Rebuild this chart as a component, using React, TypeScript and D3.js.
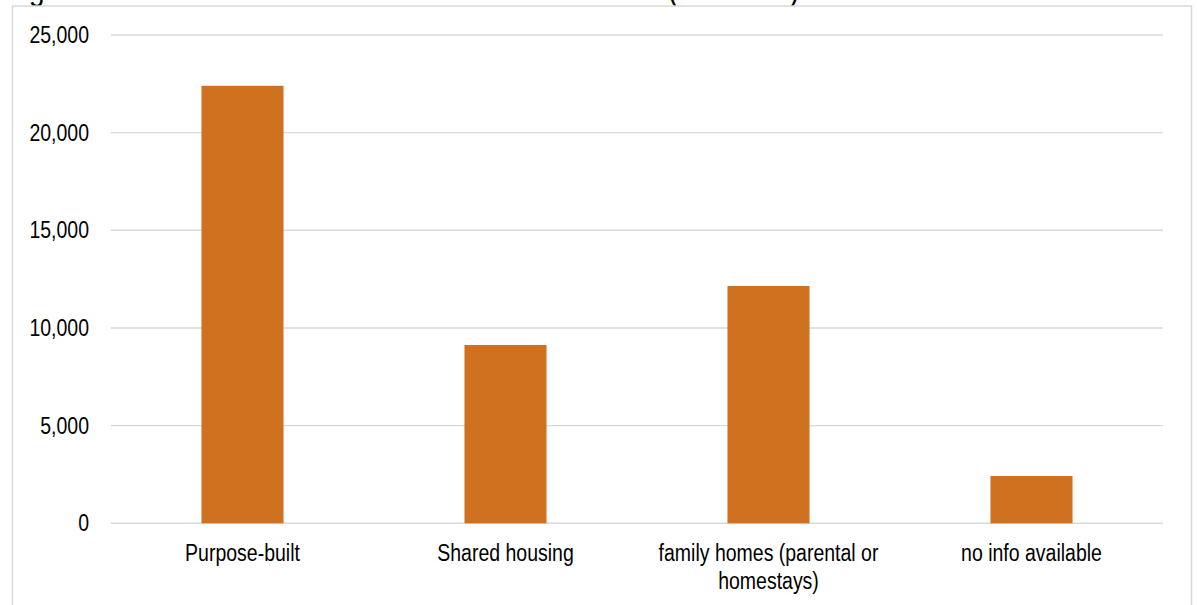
import React from "react";
import * as d3 from "d3";

const categories = ["Purpose-built", "Shared housing", "family homes (parental or homestays)", "no info available"];
const categoryLines = [["Purpose-built"], ["Shared housing"], ["family homes (parental or", "homestays)"], ["no info available"]];
const values = [22400, 9130, 12150, 2420];
const yTicks = [0, 5000, 10000, 15000, 20000, 25000];
const titleFragments = [
  { text: "g", x: 29 },
  { text: "(", x: 668 },
  { text: ")", x: 790 },
];

const W = 1197;
const H = 605;
const plotLeft = 111;
const plotRight = 1163;
const plotTop = 35;
const plotBottom = 523.3;
const font = "'Liberation Sans', Arial, sans-serif";
const fs = 19.5;
const stretch = 1.18;

export default function App() {
  const x = d3
    .scaleBand<string>()
    .domain(categories)
    .range([plotLeft, plotRight])
    .paddingInner(0.688)
    .paddingOuter(0.344);
  const y = d3.scaleLinear().domain([0, 25000]).range([plotBottom, plotTop]);
  const fmt = d3.format(",");

  return (
    <svg
      width={W}
      height={H}
      style={{ position: "absolute", left: 0, top: 0, background: "#fff" }}
    >
      <rect x={0} y={0} width={W} height={H} fill="#fff" />
      {titleFragments.map((t, i) => (
        <text
          key={i}
          transform={`translate(${t.x},0) scale(1,1.18)`}
          fontFamily={font}
          fontSize={28}
          fill="#000"
        >
          {t.text}
        </text>
      ))}
      <rect
        x={12.5}
        y={6}
        width={1179}
        height={H + 10}
        fill="#fff"
        stroke="#d9d9d9"
        strokeWidth={1.5}
      />
      {yTicks.map((t) => (
        <g key={t}>
          <line
            x1={plotLeft}
            x2={plotRight}
            y1={y(t)}
            y2={y(t)}
            stroke="#d9d9d9"
            strokeWidth={1.4}
          />
          <text
            transform={`translate(89,${y(t) + 8}) scale(1,${stretch})`}
            textAnchor="end"
            fontFamily={font}
            fontSize={fs}
            fill="#000"
          >
            {fmt(t)}
          </text>
        </g>
      ))}
      {categories.map((c, i) => (
        <rect
          key={c}
          x={x(c)}
          y={y(values[i])}
          width={x.bandwidth()}
          height={y(0) - y(values[i])}
          fill="#D0711F"
        />
      ))}
      {categories.map((c, i) =>
        categoryLines[i].map((line, j) => (
          <text
            key={c + j}
            transform={`translate(${(x(c) ?? 0) + x.bandwidth() / 2},${561 + j * 28}) scale(1,${stretch})`}
            textAnchor="middle"
            fontFamily={font}
            fontSize={fs}
            fill="#000"
          >
            {line}
          </text>
        ))
      )}
    </svg>
  );
}
